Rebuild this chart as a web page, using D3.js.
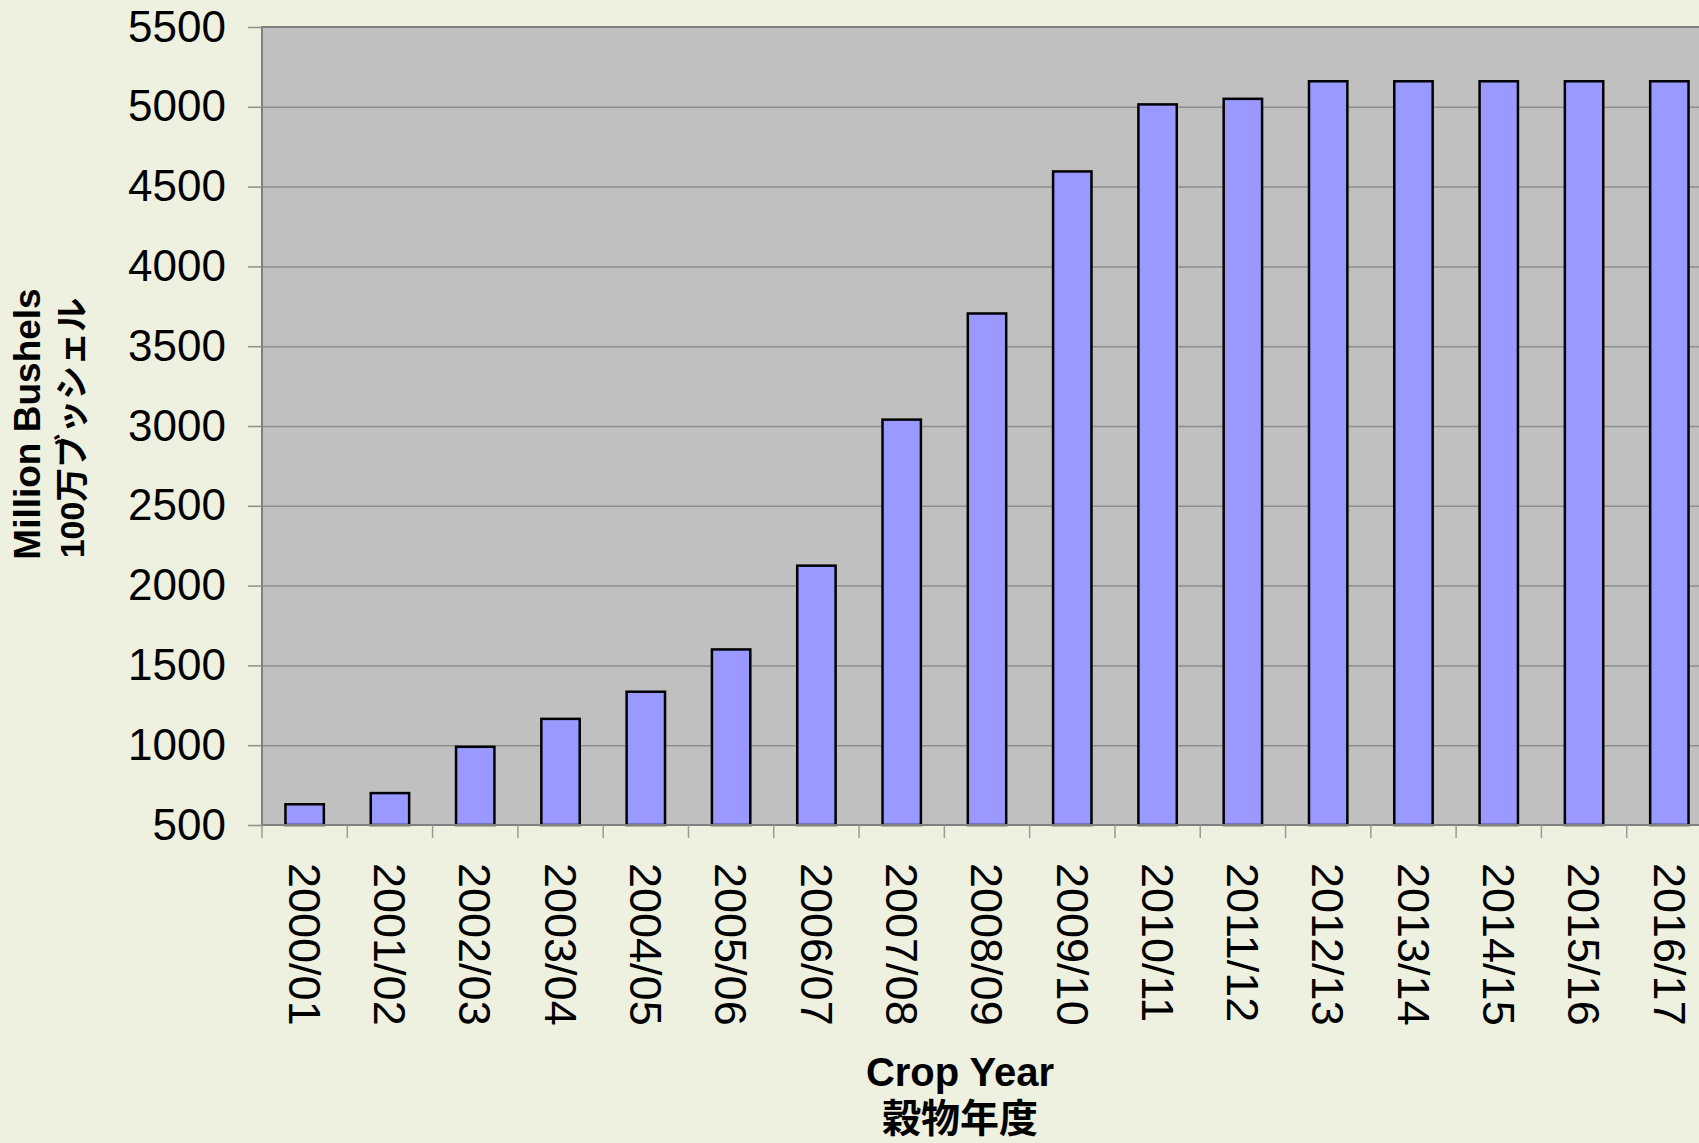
<!DOCTYPE html>
<html>
<head>
<meta charset="utf-8">
<script src="https://cdn.jsdelivr.net/npm/d3@7"></script>
<style>
    body { margin: 0; background: #eef0e0; overflow: hidden; }
    svg { display: block; font-family: "Liberation Sans", Arial, "Noto Sans CJK JP", sans-serif; }
    .grid line { stroke: #8e8e8e; stroke-width: 1.5; }
    .grid .domain { display: none; }
    .bar { fill: #9999ff; stroke: #000; stroke-width: 2.5; }
</style>
</head>
<body>
<div id="chart"></div>
<script>
// crop years and volume (million bushels)
var cropYears = ["2000/01", "2001/02", "2002/03", "2003/04", "2004/05", "2005/06", "2006/07",
    "2007/08", "2008/09", "2009/10", "2010/11", "2011/12", "2012/13", "2013/14", "2014/15",
    "2015/16", "2016/17"];
var bushels = [630, 700, 990, 1165, 1335, 1600, 2125, 3040, 3705, 4595, 5015, 5050, 5160,
    5160, 5160, 5160, 5160];
var yTicks = [500, 1000, 1500, 2000, 2500, 3000, 3500, 4000, 4500, 5000, 5500];

var svgWidth = 1699, svgHeight = 1143;
var margin = {top: 27, left: 262, bottom: 318};
var plotWidth = 1450;   // runs past the right edge, like the original
var plotHeight = svgHeight - margin.top - margin.bottom;

var svg = d3.select("#chart")
    .append("svg")
    .attr("width", svgWidth)
    .attr("height", svgHeight);

var g = svg.append("g")
    .attr("transform", "translate(" + margin.left + "," + margin.top + ")");

var x = d3.scaleBand()
    .domain(cropYears)
    .range([0, plotWidth])
    .padding(0);

var y = d3.scaleLinear()
    .domain([500, 5500])
    .range([plotHeight, 0]);

// plot area
g.append("rect")
    .attr("width", plotWidth)
    .attr("height", plotHeight)
    .attr("fill", "#c0c0c0");

// horizontal gridlines
g.append("g")
    .attr("class", "grid")
    .call(d3.axisLeft(y)
        .tickValues(yTicks.slice(1, -1))
        .tickSize(-plotWidth)
        .tickFormat(""));

// plot border (left + top)
g.append("path")
    .attr("d", "M0," + plotHeight + "V0H" + plotWidth)
    .attr("fill", "none")
    .attr("stroke", "#808080")
    .attr("stroke-width", 2);

// bars
var barWidth = x.bandwidth() * 0.45;
g.selectAll(".bar")
    .data(bushels)
    .enter()
    .append("rect")
    .attr("class", "bar")
    .attr("x", function (d, i) { return x(cropYears[i]) + (x.bandwidth() - barWidth) / 2; })
    .attr("y", function (d) { return y(d); })
    .attr("width", barWidth)
    .attr("height", function (d) { return y(500) - y(d); });

// Y axis
var yAxis = g.append("g")
    .call(d3.axisLeft(y)
        .tickValues(yTicks)
        .tickFormat(d3.format("d"))
        .tickSize(14)
        .tickPadding(22));
yAxis.select(".domain").remove();
yAxis.selectAll("line").attr("stroke", "#8e8e8e").attr("stroke-width", 1.5);
yAxis.selectAll("text")
    .attr("font-size", 44)
    .attr("fill", "#000")
    .attr("font-family", "Liberation Sans, Arial, sans-serif");

// X axis: ticks sit on band boundaries
var xAxis = g.append("g")
    .attr("transform", "translate(0," + plotHeight + ")");
xAxis.append("line")
    .attr("x1", 0)
    .attr("x2", plotWidth)
    .attr("stroke", "#808080")
    .attr("stroke-width", 2);
xAxis.selectAll(".xtick")
    .data(cropYears)
    .enter()
    .append("line")
    .attr("class", "xtick")
    .attr("x1", function (d) { return x(d); })
    .attr("x2", function (d) { return x(d); })
    .attr("y1", 0)
    .attr("y2", 13)
    .attr("stroke", "#9a9a9a")
    .attr("stroke-width", 1.5);
xAxis.selectAll(".xlabel")
    .data(cropYears)
    .enter()
    .append("text")
    .attr("class", "xlabel")
    .attr("transform", function (d) {
        return "translate(" + (x(d) + x.bandwidth() / 2) + ",38) rotate(90)";
    })
    .attr("dy", "0.35em")
    .attr("text-anchor", "start")
    .attr("font-size", 45)
    .attr("fill", "#000")
    .text(function (d) { return d; });

// Y axis title (two lines)
svg.append("text")
    .attr("transform", "translate(27,424) rotate(-90)")
    .attr("dy", "0.35em")
    .attr("text-anchor", "middle")
    .attr("font-size", 37)
    .attr("font-weight", "bold")
    .text("Million Bushels");
svg.append("text")
    .attr("transform", "translate(72,428) rotate(-90)")
    .attr("dy", "0.35em")
    .attr("text-anchor", "middle")
    .attr("font-size", 34)
    .attr("font-weight", "bold")
    .attr("font-family", "Liberation Sans, 'Noto Sans CJK JP', sans-serif")
    .text("100万ブッシェル");

// X axis title (two lines)
svg.append("text")
    .attr("x", 960)
    .attr("y", 1086)
    .attr("text-anchor", "middle")
    .attr("font-size", 40)
    .attr("font-weight", "bold")
    .text("Crop Year");
svg.append("text")
    .attr("x", 960)
    .attr("y", 1132)
    .attr("text-anchor", "middle")
    .attr("font-size", 39)
    .attr("font-weight", "bold")
    .attr("font-family", "'Noto Sans CJK JP', sans-serif")
    .text("穀物年度");
</script>
</body>
</html>
